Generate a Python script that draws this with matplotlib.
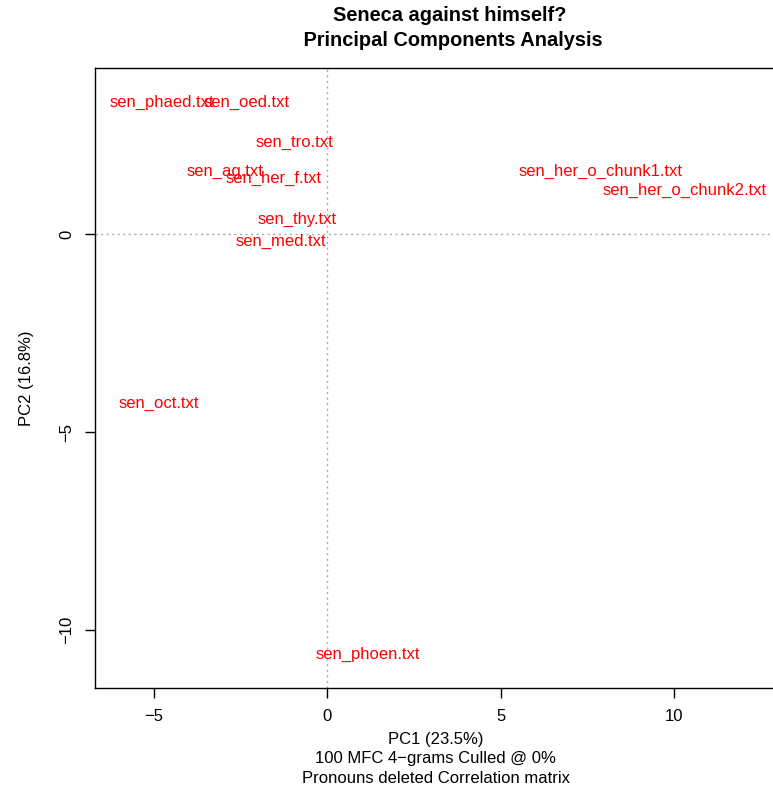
import matplotlib.pyplot as plt

plt.rcParams['font.family'] = ['Liberation Sans', 'DejaVu Sans']

# PCA scores (label centres)
labels = ["sen_phaed.txt", "sen_oed.txt", "sen_tro.txt", "sen_ag.txt",
          "sen_her_f.txt", "sen_thy.txt", "sen_med.txt",
          "sen_her_o_chunk1.txt", "sen_her_o_chunk2.txt",
          "sen_oct.txt", "sen_phoen.txt"]
pc1 = [-4.75, -2.31, -0.93, -2.93, -1.53, -0.86, -1.33, 7.87, 10.32, -4.84, 1.18]
pc2 = [3.33, 3.33, 2.32, 1.57, 1.39, 0.38, -0.18, 1.59, 1.11, -4.27, -10.61]

xticks = [-5, 0, 5, 10]
yticks = [0, -5, -10]

fig = plt.figure(figsize=(7.73, 7.94), dpi=100)
W, H = 773, 794
# axes box in pixels: left 95, right 776 (cut off), top 68, bottom 688
ax = fig.add_axes([95 / W, 1 - 688 / H, (776 - 95) / W, (688 - 68) / H])

for x, y, s in zip(pc1, pc2, labels):
    ax.text(x, y, s, color="red", fontsize=12, ha="center", va="center")

ax.axvline(0, color="#aaaaaa", linestyle=(0, (1.5, 2.5)), linewidth=1)
ax.axhline(0, color="#aaaaaa", linestyle=(0, (1.5, 2.5)), linewidth=1)

ax.set_xlim(-6.69, 12.94)
ax.set_ylim(-11.46, 4.19)

ax.set_xticks(xticks)
ax.set_xticklabels(["\u22125", "0", "5", "10"])
ax.set_yticks(yticks)
ax.set_yticklabels(["0", "\u22125", "\u221210"], rotation=90, va="center")
ax.tick_params(direction="out", length=7, width=1, labelsize=12, pad=8)
for sp in ax.spines.values():
    sp.set_linewidth(1)
    sp.set_color("black")

ax.set_xlabel("PC1 (23.5%)\n100 MFC 4\u2212grams Culled @ 0%\nPronouns deleted Correlation matrix",
              fontsize=12, linespacing=1.35, labelpad=6)
ax.set_ylabel("PC2 (16.8%)", fontsize=12, labelpad=18)

fig.text(450 / W, 1 - 28 / H, "Seneca against himself?\n Principal Components Analysis",
         ha="center", va="center", fontsize=14.4, fontweight="bold", linespacing=1.35)

fig.savefig("out.png", dpi=100)
